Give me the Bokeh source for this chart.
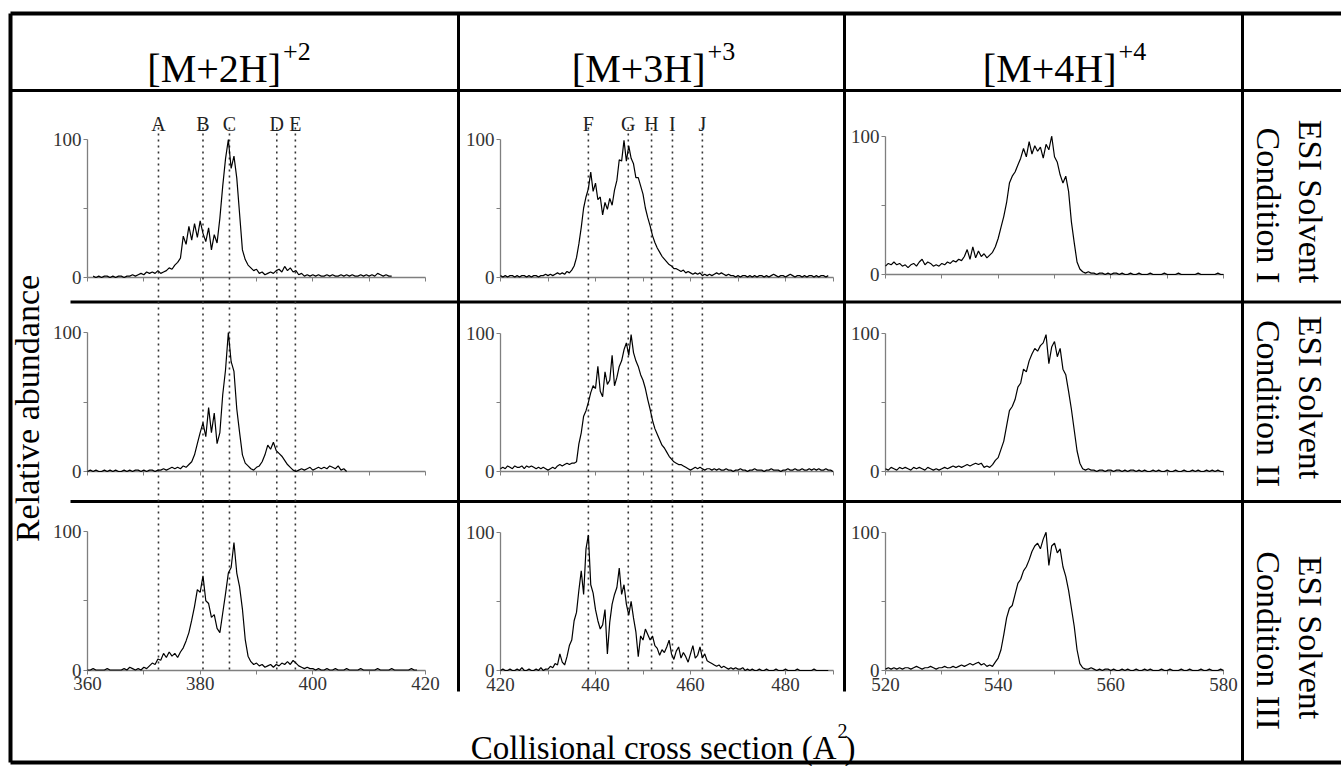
import numpy as np
from bokeh.plotting import figure
from bokeh.models import Range1d, LinearAxis, FixedTicker
from bokeh.core.properties import value
from bokeh.embed import file_html
from bokeh.resources import INLINE

# ---------------- data ----------------
STEP = 0.5
ions = ["[M+2H]", "[M+3H]", "[M+4H]"]
charges = ["+2", "+3", "+4"]
conditions = ["Condition I", "Condition II", "Condition III"]

markers_c1 = [372.6, 380.5, 385.2, 393.6, 396.9]
letters_c1 = ["A", "B", "C", "D", "E"]
markers_c2 = [438.5, 446.9, 451.8, 456.2, 462.5]
letters_c2 = ["F", "G", "H", "I", "J"]

xticks_c1 = [360, 380, 400, 420]
xticks_c2 = [420, 440, 460, 480]
xticks_c3 = [520, 540, 560, 580]

# [M+2H]+2
start_r1c1 = 361
r1c1 = [1,0,1,0,1,1,0,1,0,1,
        1,0,1,1,2,1,2,3,2,4,
        3,4,3,5,3,4,5,7,6,9,
        11,14,30,24,37,27,39,29,41,32,
        26,36,20,31,25,43,66,86,100,79,
        88,72,46,20,13,9,7,5,6,3,
        4,2,3,4,3,5,6,4,8,5,
        7,4,5,2,3,1,2,1,2,1,
        2,1,1,2,1,2,1,1,2,1,
        2,1,2,1,1,2,1,2,1,2,
        1,3,2,1,2,1,1]
start_r2c1 = 360
r2c1 = [0,1,0,1,0,0,1,0,1,0,
        1,0,0,1,0,1,0,1,1,0,
        1,0,1,1,0,1,1,2,1,2,
        3,2,3,2,4,3,5,7,12,20,
        28,35,25,46,28,42,20,28,55,73,
        100,79,72,45,28,12,6,4,2,1,
        3,4,7,12,19,16,21,15,13,11,
        8,5,3,1,0,1,2,1,2,3,
        1,2,3,2,3,2,4,3,2,4,
        1,2,0]
start_r3c1 = 360
r3c1 = [0,0,1,0,0,0,0,1,0,0,
        0,0,0,1,0,2,1,0,1,0,
        2,1,3,5,4,8,7,12,9,13,
        10,12,9,13,16,21,27,36,46,58,
        56,68,50,48,38,40,30,27,41,55,
        70,74,92,70,60,44,22,10,6,4,
        5,3,4,2,3,4,2,4,3,5,
        4,6,4,7,5,3,2,1,2,1,
        1,0,1,0,0,1,0,0,1,0,
        0,0,1,0,0,0,0,1,0,0,
        0,0,0,1,0,0,0,0,1,0,
        0,0,0,0,0,1,0,0]

# [M+3H]+3
start_r1c2 = 420
r1c2 = [1,0,1,0,1,1,0,1,0,1,
        1,0,1,0,1,1,0,1,1,2,
        1,2,1,2,3,2,3,2,4,3,
        5,8,14,24,36,50,58,64,76,62,
        68,56,58,45,54,49,57,52,63,70,
        85,84,99,84,95,86,82,72,72,66,
        60,50,43,37,30,25,21,18,15,13,
        11,9,8,6,6,5,4,5,3,4,
        3,2,3,2,3,1,2,1,2,1,
        2,3,2,3,2,1,2,1,1,0,
        1,0,1,1,0,1,0,1,0,1,
        1,0,1,0,1,2,1,0,1,1,
        0,1,2,1,0,1,1,0,1,0,
        1,1,0,1,0,1,1,0,1]
start_r2c2 = 420
r2c2 = [2,3,2,4,3,2,4,3,3,4,
        2,4,3,4,3,2,3,2,3,2,
        1,2,3,2,4,5,4,5,6,5,
        6,6,7,20,28,40,44,50,57,62,
        60,76,58,54,72,63,66,84,62,68,
        76,80,88,93,84,99,86,80,76,70,
        66,60,52,45,37,31,27,23,19,17,
        14,11,9,7,6,5,5,4,3,2,
        1,2,3,2,3,2,1,2,2,1,
        2,1,2,1,1,2,1,1,0,1,
        1,2,1,1,0,1,1,2,1,1,
        1,0,1,1,2,1,1,1,0,1,
        1,2,1,1,2,1,1,2,1,1,
        2,1,2,1,2,1,1,2,1,1,
        0]
start_r3c2 = 420
r3c2 = [0,1,0,0,1,0,0,1,0,2,
        0,0,1,0,0,1,0,2,0,1,
        1,3,2,5,4,12,6,4,10,18,
        22,36,42,58,72,55,88,98,62,56,
        44,36,30,33,44,12,35,48,55,60,
        74,55,62,48,40,50,38,28,10,25,
        22,30,26,22,25,18,16,11,15,13,
        17,22,12,8,14,17,9,13,10,6,
        12,18,9,11,17,9,12,7,6,5,
        4,3,4,2,3,2,1,2,1,2,
        1,1,2,0,1,0,1,0,0,1,
        0,0,1,0,0,0,1,0,0,0,
        1,0,0,0,0,1,0,0,0,0,
        0,0,1,0,0,0,0,0,0]

# [M+4H]+4
start_r1c3 = 520
r1c3 = [6,8,7,9,7,8,6,7,5,7,
        8,6,9,11,7,9,8,6,7,6,
        8,7,9,8,10,9,11,10,13,18,
        11,20,12,17,13,15,12,14,16,20,
        26,34,42,52,66,71,74,79,84,91,
        85,96,87,93,89,92,84,94,90,100,
        85,81,72,66,71,60,38,23,9,4,
        2,1,2,1,1,0,1,1,0,1,
        0,1,1,0,1,0,0,1,0,0,
        1,0,0,0,1,0,0,0,0,1,
        0,0,0,0,1,0,0,0,0,0,
        0,1,0,0,0,0,0,0,1,0,
        0]
start_r2c3 = 520
r2c3 = [2,1,3,2,1,3,2,3,2,1,
        3,2,3,2,1,3,2,1,2,1,
        2,3,2,3,4,3,4,3,4,5,
        4,5,6,5,6,3,4,3,5,8,
        10,16,22,33,44,47,52,61,64,74,
        72,80,85,89,87,91,93,99,78,90,
        94,83,89,74,70,58,45,30,15,6,
        2,1,2,1,1,0,1,1,0,1,
        1,0,1,1,0,1,0,1,1,0,
        1,0,1,0,0,1,0,1,0,0,
        1,0,0,1,0,0,1,0,0,1,
        0,1,0,0,1,0,1,0,1,0,
        0]
start_r3c3 = 520
r3c3 = [1,2,1,2,1,2,1,2,2,1,
        2,3,2,1,2,2,3,2,1,2,
        2,3,2,2,3,2,3,4,3,4,
        5,4,5,6,4,5,3,4,3,6,
        9,15,26,38,45,47,55,63,66,72,
        75,80,86,90,92,88,95,100,76,90,
        92,85,88,75,68,58,45,32,15,5,
        2,1,1,2,1,0,1,0,1,1,
        0,1,0,0,1,0,1,0,0,1,
        0,0,1,0,1,0,0,0,1,0,
        0,1,0,0,0,1,0,0,1,0,
        0,0,1,0,0,1,0,0,0,1,
        0]

series = {
    (1, 1): (start_r1c1, r1c1), (2, 1): (start_r2c1, r2c1), (3, 1): (start_r3c1, r3c1),
    (1, 2): (start_r1c2, r1c2), (2, 2): (start_r2c2, r2c2), (3, 2): (start_r3c2, r3c2),
    (1, 3): (start_r1c3, r1c3), (2, 3): (start_r2c3, r2c3), (3, 3): (start_r3c3, r3c3),
}

# ---------------- layout (page pixel positions) ----------------
W, H = 1341, 766
X0, X1 = 0, 1341
YT, YB = 0, 766

FONT = "Liberation Serif"

cols = {
    1: dict(v=(360, 420), px=(87, 425), bounds=(360, 420), major=xticks_c1, minor=[370, 390, 410]),
    2: dict(v=(420, 480), px=(500, 785), bounds=(420, 490), major=xticks_c2, minor=[430, 450, 470, 490]),
    3: dict(v=(520, 580), px=(885, 1223), bounds=(520, 580), major=xticks_c3, minor=[530, 550, 570]),
}
rows_px = {
    (1, 1): (277, 139), (1, 2): (276.5, 138.5), (1, 3): (274, 135.5),
    (2, 1): (471, 332), (2, 2): (471, 332.7), (2, 3): (471, 332.7),
    (3, 1): (669.5, 531), (3, 2): (670, 531.7), (3, 3): (670, 531.7),
}


def x_range_for(v0, v1, p0, p1):
    k = (p1 - p0) / (v1 - v0)
    return Range1d(v0 - (p0 - X0) / k, v0 + (X1 - p0) / k)


def y_range_for(p0, p100):
    a = (YB - p0) / (YB - YT)
    b = (YB - p100) / (YB - YT)
    span = 100.0 / (b - a)
    s = -a * span
    return Range1d(s, s + span)


p = figure(width=W, height=H, output_backend="svg", toolbar_location=None,
           x_range=Range1d(X0, X1), y_range=Range1d(YB, YT),
           x_axis_type=None, y_axis_type=None, min_border=0,
           outline_line_color=None, background_fill_color="white",
           border_fill_color="white")

p.extra_x_ranges = {f"c{c}": x_range_for(*d["v"], *d["px"]) for c, d in cols.items()}
p.extra_y_ranges = {f"r{r}c{c}": y_range_for(*v) for (r, c), v in rows_px.items()}

# ---------------- table lines ----------------
thin = dict(line_color="black", line_width=3)
p.segment(x0=[10, 10, 10], y0=[13, 762, 13], x1=[1341, 1341, 10], y1=[13, 762, 762],
          line_color="black", line_width=4)
p.segment(x0=[10, 70, 70], y0=[90, 301.5, 501], x1=[1341, 1341, 1341], y1=[90, 301.5, 501], **thin)
p.segment(x0=[458, 844, 1242], y0=[13, 13, 13], x1=[458, 844, 1242], y1=[691, 691, 762], **thin)

# ---------------- headers ----------------
head_right = [280.5, 705, 1116]
p.text(x=head_right, y=[68] * 3, text=ions, text_font=value(FONT), text_font_size="40px",
       text_align="right", text_baseline="alphabetic", text_color="black")
p.text(x=[h + 2 for h in head_right], y=[51] * 3, text=charges, text_font=value(FONT),
       text_font_size="26px", text_align="left", text_baseline="alphabetic", text_color="black")

# right side condition labels
p.text(x=[1310] * 3, y=[201, 397, 637], text=["ESI Solvent"] * 3, angle=-np.pi / 2,
       text_font=value(FONT), text_font_size="34px", text_align="center",
       text_baseline="middle", text_color="black")
p.text(x=[1268] * 3, y=[205, 403, 640], text=conditions, angle=-np.pi / 2,
       text_font=value(FONT), text_font_size="34px", text_align="center",
       text_baseline="middle", text_color="black")

# y label
p.text(x=[27], y=[408], text=["Relative abundance"], angle=np.pi / 2,
       text_font=value(FONT), text_font_size="34px", text_align="center",
       text_baseline="middle", text_color="black")

# x label with superscript
p.text(x=[836], y=[747], text=["Collisional cross section (A"], text_font=value(FONT),
       text_font_size="33px", text_align="right", text_baseline="alphabetic", text_color="black")
p.text(x=[837], y=[730], text=["2"], text_font=value(FONT), text_font_size="20px",
       text_align="left", text_baseline="alphabetic", text_color="black")
p.text(x=[844], y=[747], text=[")"], text_font=value(FONT), text_font_size="33px",
       text_align="left", text_baseline="alphabetic", text_color="black")

# ---------------- marker lines ----------------
for name, mk, lt in (("c1", markers_c1, letters_c1), ("c2", markers_c2, letters_c2)):
    p.segment(x0=mk, y0=[127] * len(mk), x1=mk, y1=[669] * len(mk), x_range_name=name,
              line_color="#333333", line_width=1.6, line_dash="2 4")
    p.text(x=mk, y=[123] * len(mk), text=lt, x_range_name=name, text_font=value(FONT),
           text_font_size="20px", text_align="center", text_baseline="alphabetic",
           text_color="#222222")

# ---------------- panels ----------------
AX = "#7f7f7f"


def style(ax):
    ax.level = "underlay"
    ax.axis_line_color = AX
    ax.axis_line_width = 1.3
    ax.major_tick_line_color = AX
    ax.minor_tick_line_color = AX
    ax.major_tick_in = 0
    ax.major_tick_out = 4
    ax.minor_tick_in = 0
    ax.minor_tick_out = 4
    ax.major_label_text_font = FONT
    ax.major_label_text_font_size = "19px"
    ax.major_label_text_color = "#333333"
    ax.major_label_standoff = 3


for (r, c), (start, vals) in series.items():
    xr_name = f"c{c}"
    yr_name = f"r{r}c{c}"
    d = cols[c]
    xs = start + STEP * np.arange(len(vals))
    p.line(xs, vals, x_range_name=xr_name, y_range_name=yr_name,
           line_color="black", line_width=1.2)

    if r == 3:
        tk = FixedTicker(ticks=d["major"], minor_ticks=d["minor"])
    else:
        tk = FixedTicker(ticks=[], minor_ticks=sorted(d["major"] + d["minor"]))
    xa = LinearAxis(x_range_name=xr_name, y_range_name=yr_name, fixed_location=0,
                    bounds=d["bounds"], ticker=tk)
    style(xa)
    p.add_layout(xa, "below")

    ya = LinearAxis(x_range_name=xr_name, y_range_name=yr_name, fixed_location=d["bounds"][0],
                    bounds=(0, 100), ticker=FixedTicker(ticks=[0, 100], minor_ticks=[50]))
    style(ya)
    ya.major_label_standoff = 2
    p.add_layout(ya, "left")

open("out.html", "w").write(file_html(p, INLINE))
